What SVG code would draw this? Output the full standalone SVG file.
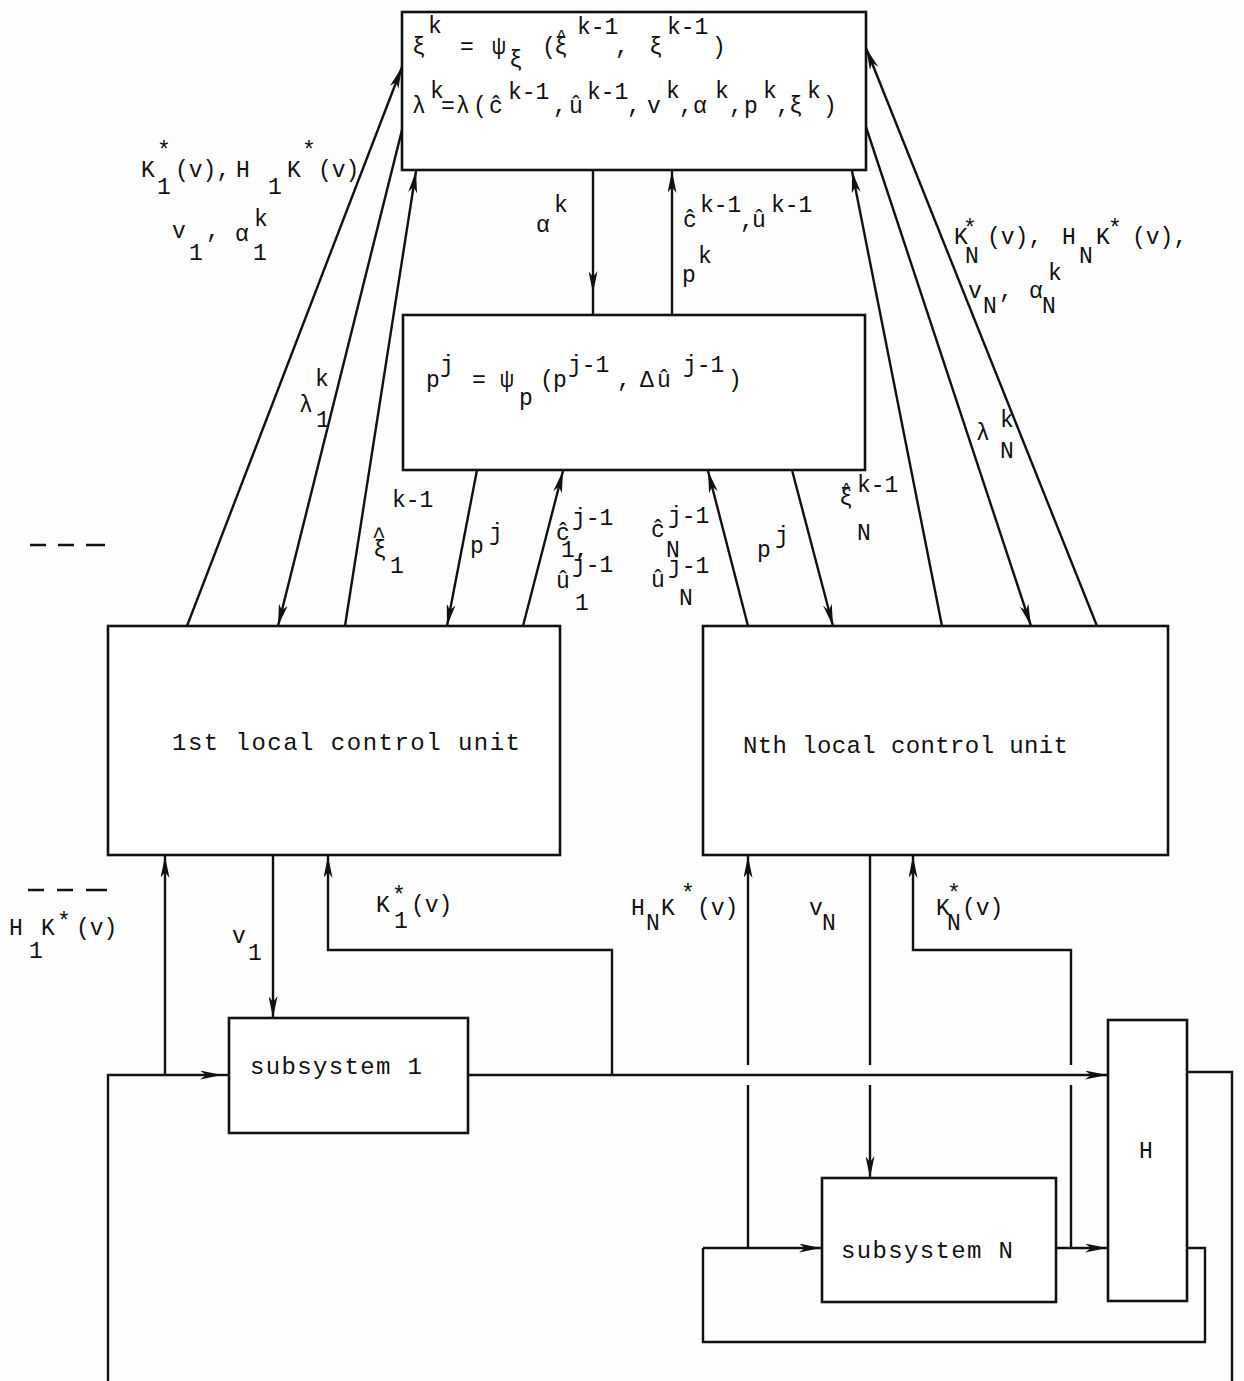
<svg xmlns="http://www.w3.org/2000/svg" width="1244" height="1381" viewBox="0 0 1244 1381">
<style>
.box{fill:#fff;stroke:#111;stroke-width:2.6}
.ln{fill:none;stroke:#111;stroke-width:2.4}
.ar{marker-end:url(#ah)}
.am{marker-mid:url(#ah)}
text{font-family:"Liberation Mono","DejaVu Sans Mono",monospace;font-size:23px;fill:#111}
.hat{font-size:18px}
.big{font-size:24px}
</style>
<defs>
<marker id="ah" viewBox="0 0 22 9" refX="22" refY="4.5" markerWidth="22" markerHeight="9" markerUnits="userSpaceOnUse" orient="auto">
<path d="M0,0 L22,4.5 L0,9 L6,4.5 z" fill="#111"/>
</marker>
</defs>
<rect width="1244" height="1381" fill="#fdfdfd"/>

<g id="connectors">
<path class="ln ar" d="M187,626 L402,67"/>
<path class="ln ar" d="M402,130 L278,626"/>
<path class="ln ar" d="M345,626 L416,171"/>
<path class="ln ar" d="M477,470 L447,626"/>
<path class="ln ar" d="M523,626 L563,471"/>
<path class="ln am" d="M593,170 L593,293 L593,315"/>
<path class="ln ar" d="M672,315 L672,171"/>
<path class="ln ar" d="M748,626 L708,471"/>
<path class="ln ar" d="M792,470 L833,626"/>
<path class="ln ar" d="M942,626 L852,171"/>
<path class="ln ar" d="M866,127 L1031,626"/>
<path class="ln ar" d="M1097,626 L866,48"/>
<path class="ln" d="M108,1381 V1075 H200"/>
<path class="ln am" d="M200,1075 L222,1075 L229,1075"/>
<path class="ln ar" d="M165,1075 V856"/>
<path class="ln ar" d="M273,855 V1018"/>
<path class="ln ar" d="M612,1075 V950 H328 V856"/>
<path class="ln ar" d="M468,1075 H1107"/>
<path class="ln" d="M748,1248 V1085"/>
<path class="ln ar" d="M748,1065 V856"/>
<path class="ln" d="M870,855 V1065"/>
<path class="ln ar" d="M870,1085 V1178"/>
<path class="ln" d="M1071,1248 V1085"/>
<path class="ln ar" d="M1071,1065 V950 H913 V856"/>
<path class="ln ar" d="M1056,1248 H1107"/>
<path class="ln ar" d="M703,1248 H821"/>
<path class="ln" d="M1187,1248 H1205 V1342 H703 V1248"/>
<path class="ln" d="M1187,1072 H1232 V1381"/>
<path class="ln" d="M30,545 H46 M58,545 H74 M86,545 H105"/>
<path class="ln" d="M28,890 H44 M57,890 H73 M86,890 H107"/>
</g>

<g id="coordinator">
<rect class="box" x="402" y="12" width="464" height="158"/>
<text x="412" y="54">ξ</text><text x="428" y="33">k</text>
<text x="460" y="54">=</text>
<text x="492" y="54">ψ</text><text x="509" y="67">ξ</text>
<text x="542" y="54">(</text><text x="554" y="54">ξ</text><text class="hat" x="556" y="42">^</text>
<text x="577" y="34">k-1</text>
<text x="615" y="54">,</text>
<text x="649" y="54">ξ</text><text x="667" y="34">k-1</text>
<text x="712" y="54">)</text>
<text x="412" y="113">λ</text><text x="430" y="98">k</text>
<text x="441" y="113">=</text><text x="456" y="113">λ</text><text x="473" y="113">(</text>
<text x="489" y="113">ĉ</text><text x="508" y="99">k-1</text>
<text x="553" y="113">,</text><text x="569" y="113">û</text><text x="587" y="99">k-1</text>
<text x="627" y="113">,</text><text x="647" y="113">v</text><text x="666" y="98">k</text>
<text x="679" y="113">,</text><text x="693" y="113">α</text><text x="715" y="98">k</text>
<text x="729" y="113">,</text><text x="744" y="113">p</text><text x="763" y="98">k</text>
<text x="776" y="113">,</text><text x="789" y="113">ξ</text><text x="807" y="98">k</text>
<text x="823" y="113">)</text>
</g>

<g id="price-unit">
<rect class="box" x="403" y="315" width="462" height="155"/>
<text x="426" y="387">p</text><text x="440" y="372">j</text>
<text x="472" y="387">=</text>
<text x="500" y="387">ψ</text><text x="519" y="405">p</text>
<text x="540" y="387">(</text><text x="553" y="387">p</text><text x="568" y="372">j-1</text>
<text x="617" y="387">,</text>
<text x="640" y="387">Δ</text><text x="657" y="387">û</text><text x="683" y="372">j-1</text>
<text x="728" y="387">)</text>
</g>

<g id="lcu1">
<rect class="box" x="108" y="626" width="452" height="229"/>
<text class="big" x="172" y="750" textLength="348" lengthAdjust="spacing">1st local control unit</text>
</g>

<g id="lcuN">
<rect class="box" x="703" y="626" width="465" height="229"/>
<text class="big" x="743" y="753" textLength="325" lengthAdjust="spacing">Nth local control unit</text>
</g>

<g id="subsystem1">
<rect class="box" x="229" y="1018" width="239" height="115"/>
<text class="big" x="250" y="1074" textLength="172" lengthAdjust="spacing">subsystem 1</text>
</g>

<g id="subsystemN">
<rect class="box" x="822" y="1178" width="234" height="124"/>
<text class="big" x="841" y="1258" textLength="172" lengthAdjust="spacing">subsystem N</text>
</g>

<g id="H">
<rect class="box" x="1108" y="1020" width="79" height="281"/>
<text x="1139" y="1158">H</text>
</g>

<g id="labels">
<text x="141" y="177">K</text><text x="157" y="158">*</text><text x="157" y="194">1</text><text x="175" y="177">(v),</text>
<text x="236" y="177">H</text><text x="268" y="194">1</text><text x="287" y="177">K</text><text x="302" y="158">*</text><text x="318" y="177">(v)</text>
<text x="172" y="238">v</text><text x="189" y="260">1</text><text x="206" y="238">,</text>
<text x="235" y="241">α</text><text x="254" y="226">k</text><text x="253" y="260">1</text>
<text x="954" y="244">K</text><text x="963" y="236">*</text><text x="965" y="263">N</text><text x="987" y="244">(v),</text>
<text x="1062" y="244">H</text><text x="1079" y="263">N</text><text x="1096" y="244">K</text><text x="1108" y="236">*</text><text x="1132" y="244">(v),</text>
<text x="968" y="298">v</text><text x="983" y="313">N</text><text x="999" y="298">,</text>
<text x="1029" y="298">α</text><text x="1048" y="280">k</text><text x="1042" y="313">N</text>
<text x="536" y="232">α</text><text x="554" y="212">k</text>
<text x="683" y="227">ĉ</text><text x="700" y="212">k-1</text><text x="740" y="228">,</text>
<text x="752" y="227">û</text><text x="771" y="212">k-1</text>
<text x="682" y="282">p</text><text x="698" y="263">k</text>
<text x="299" y="412">λ</text><text x="315" y="386">k</text><text x="316" y="427">1</text>
<text x="372" y="543" font-size="24">^</text><text x="373" y="557">ξ</text><text x="390" y="573">1</text><text x="392" y="507">k-1</text>
<text x="470" y="553">p</text><text x="489" y="540">j</text>
<text x="556" y="540">ĉ</text><text x="572" y="525">j-1</text><text x="561" y="557">1,</text>
<text x="556" y="588">û</text><text x="572" y="572">j-1</text><text x="575" y="610">1</text>
<text x="651" y="537">ĉ</text><text x="668" y="523">j-1</text><text x="666" y="557">N</text>
<text x="651" y="587">û</text><text x="668" y="573">j-1</text><text x="679" y="605">N</text>
<text x="757" y="557">p</text><text x="775" y="543">j</text>
<text x="839" y="505">ξ</text><text class="hat" x="841" y="495">^</text><text x="857" y="492">k-1</text><text x="857" y="540">N</text>
<text x="976" y="440">λ</text><text x="1000" y="427">k</text><text x="1000" y="458">N</text>
<text x="9" y="935">H</text><text x="29" y="958">1</text><text x="41" y="935">K</text><text x="57" y="929">*</text><text x="76" y="935">(v)</text>
<text x="232" y="943">v</text><text x="248" y="960">1</text>
<text x="376" y="912">K</text><text x="392" y="903">*</text><text x="394" y="928">1</text><text x="411" y="912">(v)</text>
<text x="631" y="915">H</text><text x="646" y="930">N</text><text x="661" y="915">K</text><text x="681" y="901">*</text><text x="697" y="915">(v)</text>
<text x="809" y="915">v</text><text x="822" y="930">N</text>
<text x="936" y="915">K</text><text x="947" y="901">*</text><text x="947" y="930">N</text><text x="962" y="915">(v)</text>
</g>
</svg>
